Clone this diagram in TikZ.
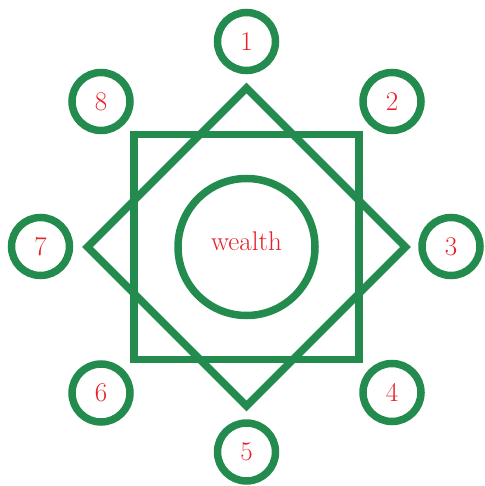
\documentclass[tikz,border=0pt]{standalone}
\definecolor{ringgreen}{RGB}{36,139,78}
\definecolor{labelred}{RGB}{232,30,40}
\tikzset{
  shapeline/.style={draw=ringgreen, line width=7.5pt, line join=miter},
  petal/.style={circle, draw=ringgreen, line width=7.5pt, minimum size=58pt, inner sep=0pt,
    text=labelred, font=\fontsize{27}{30}\selectfont},
  hub/.style={circle, draw=ringgreen, line width=7.5pt, minimum size=137pt, inner sep=0pt},
  hubtext/.style={text=labelred, font=\fontsize{27}{30}\selectfont, inner sep=0pt}
}
\begin{document}
\begin{tikzpicture}[x=1pt,y=-1pt]
\useasboundingbox (0,0) rectangle (484,486);
% square
\draw[shapeline] (134,134.5) rectangle (359,359.5);
% diamond
\draw[shapeline] (246.5,88) -- (405.5,247) -- (246.5,406) -- (87.5,247) -- cycle;
% hub
\node[hub] (hub) at (246.5,247) {};
\node[hubtext] (hubword) at (246.5,241.5) {wealth};
% petals
\node[petal] (p1) at (246.5,41.5) {1};
\node[petal] (p2) at (392,101.5) {2};
\node[petal] (p3) at (451,246.5) {3};
\node[petal] (p4) at (392,392.5) {4};
\node[petal] (p5) at (246.5,452) {5};
\node[petal] (p6) at (101,393) {6};
\node[petal] (p7) at (40.5,246.5) {7};
\node[petal] (p8) at (101,101.5) {8};
\end{tikzpicture}
\end{document}
